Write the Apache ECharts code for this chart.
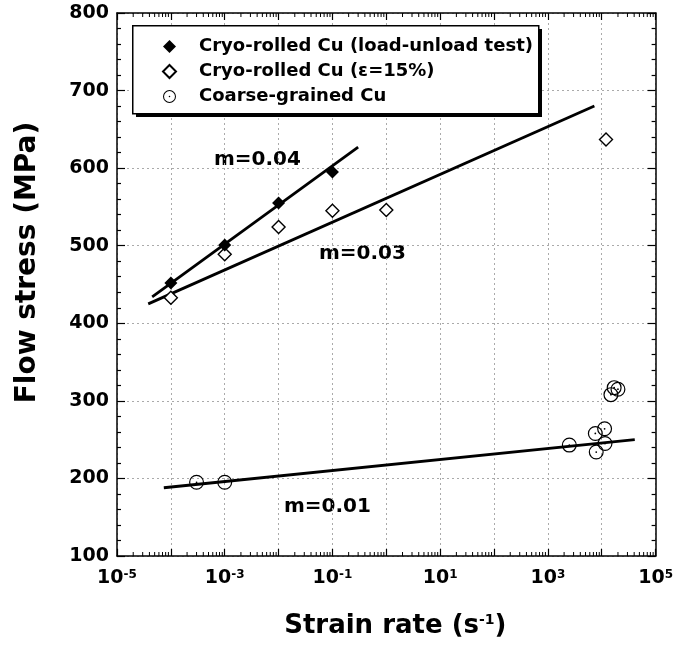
<!DOCTYPE html>
<html>
<head>
<meta charset="utf-8">
<script src="https://cdn.jsdelivr.net/npm/echarts@6/dist/echarts.min.js"></script>
<style>
  html, body { margin: 0; padding: 0; background: #fff; }
  #chart { width: 676px; height: 648px; }
</style>
</head>
<body>
<div id="chart"></div>
<script>
const FONT = 'DejaVu Sans';

// Cryo-rolled Cu, load-unload test (filled diamonds)
const loadUnloadRate = [1e-4, 1e-3, 1e-2, 1e-1];
const loadUnloadStress = [452, 501, 555, 595];
// Cryo-rolled Cu, eps = 15% (open diamonds)
const cryoRate = [1e-4, 1e-3, 1e-2, 1e-1, 1, 1.2e4];
const cryoStress = [433, 489, 524, 545, 546, 637];
// Coarse-grained Cu (dotted circles)
const coarseRate = [3e-4, 1e-3, 2.5e3, 7.9e3, 7.6e3, 1.13e4, 1.15e4, 1.48e4, 1.7e4, 2.0e4];
const coarseStress = [195, 195, 243, 234, 258, 264, 245, 308, 317, 315];

// fitted lines (end points)
const fit04Rate = [4.5e-5, 0.3];
const fit04Stress = [434, 627];
const fit03Rate = [3.8e-5, 7.3e3];
const fit03Stress = [425, 680];
const fit01Rate = [7.4e-5, 4.1e4];
const fit01Stress = [188, 250];

// axis ticks
const decadeExps = [-5, -4, -3, -2, -1, 0, 1, 2, 3, 4];
const minorMantissas = [2, 3, 4, 5, 6, 7, 8, 9];
const yTicks = [100, 200, 300, 400, 500, 600, 700, 800];

const legendNames = ['Cryo-rolled Cu (load-unload test)', 'Cryo-rolled Cu (\u03b5=15%)', 'Coarse-grained Cu'];

const zip = (xs, ys) => xs.map((x, i) => [x, ys[i]]);

const minorTicks = [];
decadeExps.forEach(e => minorMantissas.forEach(m => minorTicks.push([m * Math.pow(10, e), yTicks[0]])));

const ringPath = 'path://M0,-10A10,10,0,1,1,0,10A10,10,0,1,1,0,-10Z' +
  'M0,-8.4A8.4,8.4,0,1,0,0,8.4A8.4,8.4,0,1,0,0,-8.4Z' +
  'M0,-1.2A1.2,1.2,0,1,1,0,1.2A1.2,1.2,0,1,1,0,-1.2Z';

const chart = echarts.init(document.getElementById('chart'));

const tickStyle = { color: '#000', width: 1.2 };
const gridLine = { show: true, interval: 0, lineStyle: { color: '#aaa', type: [2, 3], width: 1 } };

const xBase = {
  type: 'log',
  logBase: 10,
  min: 1e-5,
  max: 1e5,
  interval: 1,
  splitNumber: 10,
  axisLine: { show: true, lineStyle: { color: '#000', width: 1.5 } },
  axisTick: { show: true, interval: 0, inside: true, length: 7, lineStyle: tickStyle }
};

const yBase = {
  type: 'value',
  min: yTicks[0],
  max: yTicks[yTicks.length - 1],
  interval: 100,
  axisLine: { show: true, lineStyle: { color: '#000', width: 1.5 } },
  axisTick: { show: true, inside: true, length: 8, lineStyle: tickStyle },
  minorTick: { show: true, splitNumber: 5, length: 4, lineStyle: tickStyle }
};

const option = {
  animation: false,
  grid: { left: 117, right: 16, top: 13, bottom: 92 },
  legend: {
    data: legendNames,
    orient: 'vertical',
    left: 132,
    top: 25,
    z: 6,
    padding: [11, 10, 8, 30],
    itemGap: 4,
    itemWidth: 13,
    itemHeight: 13,
    selectedMode: false,
    textStyle: { fontFamily: FONT, fontWeight: 'bold', fontSize: 18, lineHeight: 21, color: '#000', padding: [0, 0, 0, 18] }
  },
  xAxis: [
    Object.assign({}, xBase, {
      position: 'bottom',
      splitLine: gridLine,
      name: '{t|Strain rate (s}{sup|-1}{t|)}',
      nameLocation: 'middle',
      nameGap: 57,
      nameTextStyle: {
        padding: [0, 0, 0, 18],
        rich: {
          t: { fontFamily: FONT, fontWeight: 'bold', fontSize: 26, color: '#000' },
          sup: { fontFamily: FONT, fontWeight: 'bold', fontSize: 14, color: '#000', verticalAlign: 'top' }
        }
      },
      axisLabel: {
        margin: 13,
        interval: 0,
        formatter: v => {
          const e = Math.round(Math.log10(v));
          return (e % 2 !== 0) ? '{b|10}{s|' + e + '}' : '';
        },
        rich: {
          b: { fontFamily: FONT, fontWeight: 'bold', fontSize: 19, color: '#000' },
          s: { fontFamily: FONT, fontWeight: 'bold', fontSize: 12, color: '#000', verticalAlign: 'top' }
        }
      }
    }),
    Object.assign({}, xBase, {
      position: 'top',
      splitLine: { show: false },
      axisLabel: { show: false, interval: 0 }
    })
  ],
  yAxis: [
    Object.assign({}, yBase, {
      position: 'left',
      splitLine: gridLine,
      name: 'Flow stress (MPa)',
      nameLocation: 'middle',
      nameGap: 75,
      nameTextStyle: { fontFamily: FONT, fontWeight: 'bold', fontSize: 28, color: '#000', padding: [0, 0, 0, 44] },
      axisLabel: { margin: 8, fontFamily: FONT, fontWeight: 'bold', fontSize: 19, color: '#000' }
    }),
    Object.assign({}, yBase, {
      position: 'right',
      splitLine: { show: false },
      axisLabel: { show: false }
    })
  ],
  graphic: [
    // legend frame with hard drop shadow
    { type: 'rect', z: 3, left: 136, top: 29, shape: { width: 406, height: 88 }, style: { fill: '#000' } },
    { type: 'rect', z: 3, left: 132, top: 25, shape: { width: 406, height: 88 }, style: { fill: '#fff', stroke: '#000', lineWidth: 1.5 } },
    { type: 'text', left: 214, top: 150, style: { text: 'm=0.04', fontFamily: FONT, fontWeight: 'bold', fontSize: 20, fill: '#000' } },
    { type: 'text', left: 319, top: 244, style: { text: 'm=0.03', fontFamily: FONT, fontWeight: 'bold', fontSize: 20, fill: '#000' } },
    { type: 'text', left: 284, top: 497, style: { text: 'm=0.01', fontFamily: FONT, fontWeight: 'bold', fontSize: 20, fill: '#000' } }
  ],
  series: [
    {
      name: 'minor ticks',
      type: 'custom',
      silent: true,
      clip: false,
      data: minorTicks,
      renderItem: (params, api) => {
        const v = api.value(0);
        const b = api.coord([v, yTicks[0]]);
        const t = api.coord([v, yTicks[yTicks.length - 1]]);
        return {
          type: 'group',
          children: [
            { type: 'line', shape: { x1: b[0], y1: b[1], x2: b[0], y2: b[1] - 4 }, style: { stroke: '#000', lineWidth: 1 } },
            { type: 'line', shape: { x1: t[0], y1: t[1], x2: t[0], y2: t[1] + 4 }, style: { stroke: '#000', lineWidth: 1 } }
          ]
        };
      }
    },
    { name: 'fit 0.04', type: 'line', data: zip(fit04Rate, fit04Stress), symbol: 'none', lineStyle: { color: '#000', width: 2.8 }, z: 2 },
    { name: 'fit 0.03', type: 'line', data: zip(fit03Rate, fit03Stress), symbol: 'none', lineStyle: { color: '#000', width: 2.8 }, z: 2 },
    { name: 'fit 0.01', type: 'line', data: zip(fit01Rate, fit01Stress), symbol: 'none', lineStyle: { color: '#000', width: 2.8 }, z: 2 },
    {
      name: legendNames[0], type: 'scatter', data: zip(loadUnloadRate, loadUnloadStress),
      symbol: 'diamond', symbolSize: 13, itemStyle: { color: '#000', opacity: 1 }, z: 4
    },
    {
      name: legendNames[1], type: 'scatter', data: zip(cryoRate, cryoStress),
      symbol: 'diamond', symbolSize: 13, itemStyle: { color: '#fff', borderColor: '#000', borderWidth: 1.4, opacity: 1 }, z: 3
    },
    {
      name: legendNames[2], type: 'scatter', data: zip(coarseRate, coarseStress),
      symbol: ringPath, symbolSize: 15, itemStyle: { color: '#000', opacity: 1 }, z: 3
    }
  ]
};

chart.setOption(option);
</script>
</body>
</html>
